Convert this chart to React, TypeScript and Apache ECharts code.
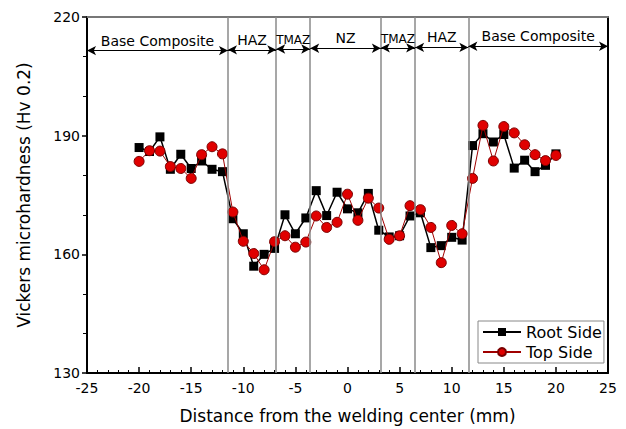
import React, { useEffect, useRef } from "react";
import * as echarts from "echarts";

const xValues = [-20, -19, -18, -17, -16, -15, -14, -13, -12, -11, -10, -9, -8, -7, -6, -5, -4, -3, -2, -1, 0, 1, 2, 3, 4, 5, 6, 7, 8, 9, 10, 11, 12, 13, 14, 15, 16, 17, 18, 19, 20];
const rootSide = [187, 186, 189.7, 181.5, 185.3, 181.7, 183.6, 181.5, 180.9, 169, 165.2, 157, 160, 161.5, 170, 165.2, 169.2, 176.1, 169.8, 175.7, 171.5, 170.5, 175.4, 166.1, 164.4, 164.7, 169.7, 170.5, 161.7, 162.2, 164.3, 163.6, 187.5, 190.5, 188.4, 190.3, 181.8, 183.8, 180.9, 182.5, 185.4];
const topSide = [183.5, 186.2, 186.1, 182.2, 181.7, 179.2, 185.2, 187.2, 185.4, 170.7, 163.3, 160.2, 156.1, 163.2, 164.7, 161.8, 163.1, 169.7, 166.8, 168.1, 175.2, 168.6, 174.2, 171.7, 163.8, 164.7, 172.3, 171.3, 166.8, 157.9, 167.3, 165.2, 179.2, 192.6, 183.6, 192.3, 190.7, 187.7, 185.2, 183.7, 185];
const boundaries = [-11.47, -6.84, -3.58, 3.2, 6.49, 11.6];
const regionNames = ["Base Composite", "HAZ", "TMAZ", "NZ", "TMAZ", "HAZ", "Base Composite"];
const regionStarts = [-25, -11.47, -6.84, -3.58, 3.2, 6.49, 11.6];
const regionEnds = [-11.47, -6.84, -3.58, 3.2, 6.49, 11.6, 25];
const regionArrowY = [211.5, 211.7, 211.9, 212.1, 212.2, 212.3, 212.6];
const yTicks = { min: 130, max: 220, interval: 30 };
const xTicks = { min: -25, max: 25, interval: 5 };

const FONT = "DejaVu Sans";

export default function App() {
  const ref = useRef<HTMLDivElement>(null);
  useEffect(() => {
    document.body.style.margin = "0";
    if (!ref.current) return;
    const chart = echarts.init(ref.current, null, { renderer: "svg" });

    const arrowData = regionNames.map((name, i) => [
      {
        name,
        coord: [regionStarts[i], regionArrowY[i]],
        label: { fontSize: name === "TMAZ" ? 12 : 14 },
      },
      { coord: [regionEnds[i], regionArrowY[i]] },
    ]);

    chart.setOption({
      animation: false,
      textStyle: { fontFamily: FONT },
      grid: { left: 87, right: 18, top: 17, bottom: 53 },
      legend: {
        data: ["Root Side", "Top Side"],
        orient: "vertical",
        left: 478,
        top: 321,
        padding: [3, 2, 3, 4],
        itemGap: 4,
        itemWidth: 38,
        itemHeight: 10,
        borderColor: "#888",
        borderWidth: 1,
        textStyle: { fontFamily: FONT, fontSize: 16, color: "#000" },
      },
      xAxis: [
        {
          type: "value",
          min: xTicks.min,
          max: xTicks.max,
          interval: xTicks.interval,
          name: "Distance from the welding center (mm)",
          nameLocation: "middle",
          nameGap: 34,
          nameTextStyle: { fontFamily: FONT, fontSize: 17, color: "#000" },
          axisLine: { onZero: false, lineStyle: { color: "#000", width: 2 } },
          axisTick: { inside: true, length: 6, lineStyle: { color: "#000", width: 1.5 } },
          minorTick: { show: true, splitNumber: 5, length: 3, lineStyle: { color: "#000", width: 1 } },
          axisLabel: { fontFamily: FONT, fontSize: 14, color: "#000", margin: 8 },
          splitLine: { show: false },
        },
        {
          type: "value",
          position: "top",
          min: xTicks.min,
          max: xTicks.max,
          axisLine: { show: true, onZero: false, lineStyle: { color: "#777", width: 2 } },
          axisTick: { show: false },
          axisLabel: { show: false },
          splitLine: { show: false },
        },
      ],
      yAxis: [
        {
          type: "value",
          min: yTicks.min,
          max: yTicks.max,
          interval: yTicks.interval,
          name: "Vickers microhardness (Hv 0.2)",
          nameLocation: "middle",
          nameGap: 55,
          nameTextStyle: { fontFamily: FONT, fontSize: 17, color: "#000" },
          axisLine: { show: true, onZero: false, lineStyle: { color: "#000", width: 2 } },
          axisTick: { show: true, inside: false, length: 5, lineStyle: { color: "#000", width: 1.5 } },
          minorTick: { show: true, splitNumber: 3, length: 4, lineStyle: { color: "#000", width: 1 } },
          axisLabel: { fontFamily: FONT, fontSize: 14, color: "#000", margin: 7 },
          splitLine: { show: false },
        },
        {
          type: "value",
          position: "right",
          min: yTicks.min,
          max: yTicks.max,
          axisLine: { show: true, onZero: false, lineStyle: { color: "#000", width: 2 } },
          axisTick: { show: false },
          axisLabel: { show: false },
          splitLine: { show: false },
        },
      ],
      series: [
        {
          name: "Root Side",
          type: "line",
          data: xValues.map((x, i) => [x, rootSide[i]]),
          symbol: "rect",
          symbolSize: 9,
          itemStyle: { color: "#000" },
          lineStyle: { color: "#000", width: 1.5 },
          z: 2,
          markLine: {
            silent: true,
            symbol: "none",
            animation: false,
            label: { show: false },
            lineStyle: { color: "#8a8a8a", width: 1.5, type: "solid" },
            data: boundaries.map((b) => ({ xAxis: b })),
          },
        },
        {
          name: "Top Side",
          type: "line",
          data: xValues.map((x, i) => [x, topSide[i]]),
          symbol: "circle",
          symbolSize: 10,
          itemStyle: { color: "#e00000", borderColor: "#7a0000", borderWidth: 1 },
          lineStyle: { color: "#a00000", width: 1 },
          z: 3,
          markLine: {
            silent: true,
            symbol: ["arrow", "arrow"],
            symbolSize: [7, 9],
            animation: false,
            lineStyle: { color: "#000", width: 1.2, type: "solid" },
            label: {
              show: true,
              position: "middle",
              formatter: "{b}",
              color: "#000",
              fontFamily: FONT,
              fontSize: 14,
              distance: 3,
            },
            data: arrowData,
          },
        },
      ],
    });
    return () => chart.dispose();
  }, []);
  return (
    <div
      ref={ref}
      style={{ position: "fixed", left: 0, top: 0, width: 626, height: 429, background: "#fff" }}
    />
  );
}
